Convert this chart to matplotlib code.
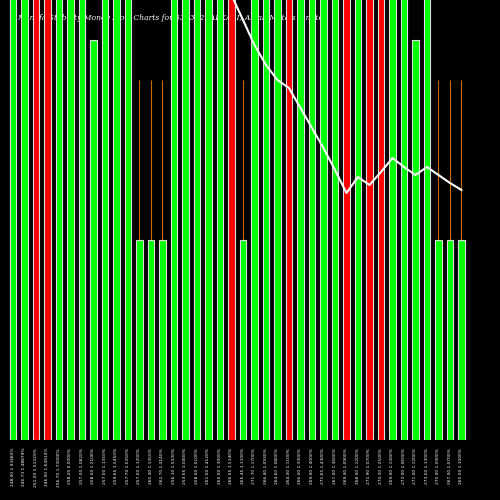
import numpy as np
import matplotlib
matplotlib.use("Agg")
import matplotlib.pyplot as plt

# bar colours (g = inflow, r = outflow) and heights in chart units
colors = ["g", "g", "r", "r", "g", "g", "g", "g", "g", "g",
          "g", "g", "g", "g", "g", "g", "g", "g", "g", "r",
          "g", "g", "g", "g", "r", "g", "g", "g", "g", "r",
          "g", "r", "r", "g", "g", "g", "g", "g", "g", "g"]
heights = [500, 500, 500, 500, 500, 500, 500, 400, 500, 500,
           500, 200, 200, 200, 500, 500, 500, 500, 500, 500,
           200, 500, 500, 500, 500, 500, 500, 500, 500, 500,
           500, 500, 500, 500, 500, 400, 500, 200, 200, 200]
wick_idx = [11, 12, 13, 20, 37, 38, 39]
wick_top = 360
line_vals = [np.nan] * 18 + [480, 445, 420, 395, 375, 360, 352, 332, 312, 292, 270,
                             247, 263, 255, 268, 282, 273, 265, 273, 265, 257, 250]
labels = ["248.00 1.93480%", "246.73 1.48879%", "251.00 1.51329%", "246.00 1.64910%",
          "256.70 1.73000%", "258.20 0.0000%", "257.00 1.0820%", "258.00 1.2108%",
          "257.00 1.1350%", "259.65 1.5450%", "257.70 1.0350%", "257.00 1.1200%",
          "260.40 1.1350%", "262.70 1.2140%", "256.10 1.5330%", "253.65 1.0400%",
          "258.00 1.0100%", "261.50 1.4120%", "265.00 1.3000%", "266.55 1.5140%",
          "265.45 1.1100%", "271.70 1.1700%", "266.40 1.0930%", "264.60 1.0800%",
          "264.30 1.1100%", "266.00 1.3300%", "269.00 1.4000%", "271.65 1.4300%",
          "267.00 1.3600%", "269.40 1.0900%", "268.00 1.1200%", "271.90 1.0700%",
          "270.30 1.2500%", "269.00 1.1300%", "273.00 1.0600%", "271.00 1.1200%",
          "273.50 1.1300%", "270.00 1.0900%", "267.00 1.0700%", "265.00 1.1000%"]

x = np.arange(len(colors))
cmap = {"g": "#00ff00", "r": "#ff0000"}

fig = plt.figure(figsize=(5, 5), dpi=100, facecolor="black")
ax = fig.add_axes([0, 0.12, 1, 0.88])
ax.set_facecolor("black")

ax.text(0.035, 0.955, "Munafa Stability Money Flow Charts for 532362 (ALKALI) Alkali Metals Limited",
        transform=ax.transAxes, color="white", fontsize=5.5, family="DejaVu Serif",
        style="italic", zorder=0)

for i in wick_idx:
    ax.vlines(x[i], 0, wick_top, color="#cc6600", linewidth=0.8, zorder=1)
ax.bar(x, heights, width=0.6, color=[cmap[c] for c in colors],
       edgecolor="#dddddd", linewidth=0.8, zorder=2)
ax.plot(x, line_vals, color="white", linewidth=1.5, zorder=3)

ax.set_xlim(-1.13, 42.35)
ax.set_ylim(0, 440)
ax.axis("off")

for xi, lab in zip(x, labels):
    ax.text(xi, -8, lab, rotation=90, ha="center", va="top", color="white",
            fontsize=3.2)

fig.savefig("out.png", dpi=100, facecolor="black")
